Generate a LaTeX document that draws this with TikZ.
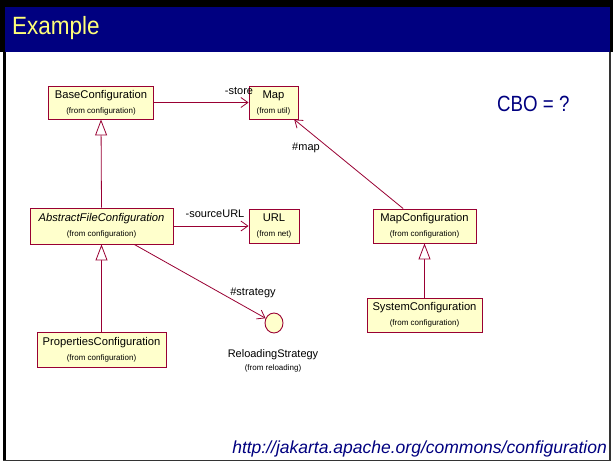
\documentclass[tikz,border=0pt]{standalone}
\usepackage{fontspec}
\setmainfont{Liberation Sans}
\usetikzlibrary{arrows.meta,shapes.geometric}
\definecolor{navy}{RGB}{0,0,128}
\definecolor{umlred}{RGB}{153,0,51}
\definecolor{umlfill}{RGB}{255,255,204}
\definecolor{titleyellow}{RGB}{255,255,120}
\newcommand\fromtxt[1]{{\fontsize{8}{9}\selectfont #1}}

\begin{document}
\begin{tikzpicture}[x=1pt,y=-1pt,
  cls/.style={draw=umlred, fill=umlfill, line width=0.9pt, align=center,
              inner sep=0pt, font=\fontsize{11.2}{15}\selectfont},
  assoc/.style={draw=umlred, line width=0.8pt,
                -{Straight Barb[length=7pt,width=10pt]}},
  gen/.style={draw=umlred, line width=0.8pt,
              -{Triangle[open,length=16pt,width=12pt,fill=white]}},
  lbl/.style={font=\fontsize{11}{13}\selectfont, inner sep=0pt},
]
% page and slide frame
\useasboundingbox (0,0) rectangle (613,463);
\fill[white] (0,0) rectangle (613,463);
\fill[black] (0,0) rectangle (613,52);
\fill[navy] (5,7) rectangle (610,52);
\draw[black, line width=3pt] (4.5,52) -- (4.5,460.5);
\draw[black!80, line width=1.2pt] (3,460.5) -- (610,460.5) -- (610,52);

% title
\node[anchor=west, inner sep=0pt, text=titleyellow,
      font=\fontsize{25}{27}\selectfont] (title) at (12,28)
      {\scalebox{0.9}[1]{Example}};

% classes
\node[cls, minimum width=105pt, minimum height=33pt] (base) at (101,102.5)
  {BaseConfiguration\\\fromtxt{(from configuration)}};
\node[cls, minimum width=49pt, minimum height=33pt] (map) at (273.5,102.5)
  {Map\\\fromtxt{(from util)}};
\node[cls, minimum width=143pt, minimum height=36pt] (afc) at (101.5,226)
  {\itshape AbstractFileConfiguration\\\fromtxt{(from configuration)}};
\node[cls, minimum width=50pt, minimum height=34pt] (url) at (274,226)
  {URL\\\fromtxt{(from net)}};
\node[cls, minimum width=129pt, minimum height=35pt] (props) at (101.5,349.5)
  {PropertiesConfiguration\\\fromtxt{(from configuration)}};
\node[cls, minimum width=103pt, minimum height=34pt] (mapconf) at (424.5,226)
  {MapConfiguration\\\fromtxt{(from configuration)}};
\node[cls, minimum width=115pt, minimum height=34pt] (sysconf) at (424.5,315)
  {SystemConfiguration\\\fromtxt{(from configuration)}};

% interface
\node[draw=umlred, fill=umlfill, line width=0.9pt, ellipse, inner sep=0pt,
      minimum width=18pt, minimum height=20pt] (iface) at (274,323) {};
\node[align=center, inner sep=0pt, font=\fontsize{11}{13}\selectfont]
  (ifacelbl) at (273,361) {ReloadingStrategy\\\fromtxt{(from reloading)}};

% associations
\draw[assoc] (base) -- (map);
\draw[assoc] (afc) -- (url);
\draw[assoc] (afc) -- (iface);
\draw[assoc] (mapconf) -- (map);
\node[lbl] (lstore) at (239,91) {-store};
\node[lbl] (lsrc) at (215,214) {-sourceURL};
\node[lbl] (lstrat) at (253,293) {\#strategy};
\node[lbl] (lmap) at (306,148) {\#map};

% generalizations
\draw[gen] (afc.north) -- (base.south);
\draw[gen] (props.north) -- (afc.south);
\draw[gen] (sysconf.north) -- (mapconf.south);

% side texts
\node[anchor=west, inner sep=0pt, text=navy, font=\fontsize{22}{24}\selectfont]
  (cbo) at (497,104) {\scalebox{0.85}[1]{CBO = ?}};
\node[anchor=base east, inner sep=0pt, text=navy,
      font=\fontsize{17.5}{20}\selectfont\itshape]
  (link) at (607,453) {http://jakarta.apache.org/commons/configuration};
\end{tikzpicture}
\end{document}
